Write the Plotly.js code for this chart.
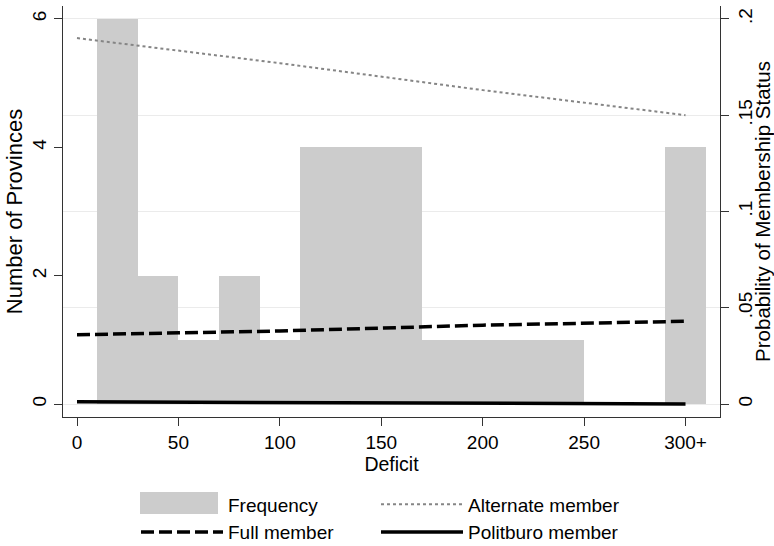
<!DOCTYPE html>
<html>
<head>
<meta charset="utf-8">
<script src="https://cdn.plot.ly/plotly-3.0.1.min.js"></script>
<style>
html,body{margin:0;padding:0;background:#fff;}
#chart{width:774px;height:546px;}
</style>
</head>
<body>
<div id="chart"></div>
<script>
// Histogram of provinces by deficit (bin centres, width 20)
const binCenters = [20, 40, 60, 80, 100, 120, 140, 160, 180, 200, 220, 240, 260, 280, 300];
const frequency  = [6, 2, 1, 2, 1, 4, 4, 4, 1, 1, 1, 1, 0, 0, 4];

// Predicted probabilities of membership status
const deficitPts = [0, 100, 200, 300];
const alternateMember = [0.190, 0.177, 0.163, 0.150];
const fullMember      = [0.036, 0.038, 0.041, 0.043];
const politburoMember = [0.0012, 0.0007, 0.0003, 0.0001];

// Tick labels
const xTickVals = [0, 50, 100, 150, 200, 250, 300];
const xTickText = ['0', '50', '100', '150', '200', '250', '300+'];
const yTickVals = [0, 2, 4, 6];
const y2TickVals = [0, 0.05, 0.1, 0.15, 0.2];
const y2TickText = ['0', '.05', '.1', '.15', '.2'];

const FONT = 'Liberation Sans, Arial, Helvetica, sans-serif';
const FS = 19;
const BAR_COLOR = '#cccccc';

const traces = [
  {
    type: 'bar', x: binCenters, y: frequency, width: 20,
    marker: {color: BAR_COLOR, line: {width: 0}},
    name: 'Frequency', showlegend: false, yaxis: 'y', hoverinfo: 'x+y'
  },
  {
    // legend entry for the histogram (key drawn as a shape below)
    type: 'scatter', mode: 'lines', x: [null], y: [null],
    name: 'Frequency', legend: 'legend', yaxis: 'y',
    line: {color: 'rgba(0,0,0,0)', width: 1}
  },
  {
    type: 'scatter', mode: 'lines', x: deficitPts, y: fullMember,
    name: 'Full member', legend: 'legend', yaxis: 'y2',
    line: {color: '#000000', width: 3.5, dash: '13px,5px'}
  },
  {
    type: 'scatter', mode: 'lines', x: deficitPts, y: alternateMember,
    name: 'Alternate member', legend: 'legend2', yaxis: 'y2',
    line: {color: '#858585', width: 2, dash: 'dot'}
  },
  {
    type: 'scatter', mode: 'lines', x: deficitPts, y: politburoMember,
    name: 'Politburo member', legend: 'legend2', yaxis: 'y2',
    line: {color: '#000000', width: 3.5}
  }
];

const legendCommon = {
  orientation: 'v', xanchor: 'left', yanchor: 'top',
  itemwidth: 82, traceorder: 'normal', tracegroupgap: 0,
  font: {family: FONT, size: FS, color: '#000'},
  bgcolor: 'rgba(0,0,0,0)', borderwidth: 0
};

const layout = {
  width: 774, height: 546,
  margin: {l: 63, r: 54, t: 6, b: 129, pad: 0, autoexpand: false},
  paper_bgcolor: '#ffffff', plot_bgcolor: '#ffffff',
  font: {family: FONT, size: FS, color: '#000'},
  bargap: 0,
  xaxis: {
    range: [-6.9, 317], tickvals: xTickVals, ticktext: xTickText,
    ticks: 'outside', ticklen: 8, tickcolor: '#333', tickwidth: 1,
    showline: true, linecolor: '#333', linewidth: 1,
    showgrid: false, zeroline: false,
    tickfont: {size: FS},
    title: {text: 'Deficit', font: {size: 19.5}, standoff: 4}
  },
  yaxis: {
    range: [-0.2, 6.2], tickvals: yTickVals, tickangle: -90,
    ticks: 'outside', ticklen: 8, tickcolor: '#333', tickwidth: 1,
    showline: true, linecolor: '#333', linewidth: 1,
    showgrid: false, zeroline: false,
    tickfont: {size: FS},
    title: {text: 'Number of Provinces', font: {size: 22}, standoff: 0}
  },
  yaxis2: {
    overlaying: 'y', side: 'right', anchor: 'x',
    range: [-0.2 / 30, 6.2 / 30], tickvals: y2TickVals, ticktext: y2TickText,
    tickangle: -90,
    ticks: 'outside', ticklen: 8, tickcolor: '#333', tickwidth: 1,
    showline: true, linecolor: '#333', linewidth: 1,
    showgrid: true, gridcolor: '#ebebeb', gridwidth: 1, zeroline: false,
    tickfont: {size: FS},
    title: {text: 'Probability of Membership Status', font: {size: 20.5}, standoff: 4}
  },
  legend: Object.assign({x: 0.1111, y: -0.1667}, legendCommon),
  legend2: Object.assign({x: 0.4764, y: -0.1667}, legendCommon),
  shapes: [
    {type: 'rect', xref: 'paper', yref: 'paper',
     x0: 0.1172, x1: 0.2359, y0: -0.1825, y1: -0.2360,
     fillcolor: BAR_COLOR, line: {width: 0}, layer: 'above'}
  ],
  showlegend: true
};

Plotly.newPlot('chart', traces, layout, {displayModeBar: false, staticPlot: true});
</script>
</body>
</html>
